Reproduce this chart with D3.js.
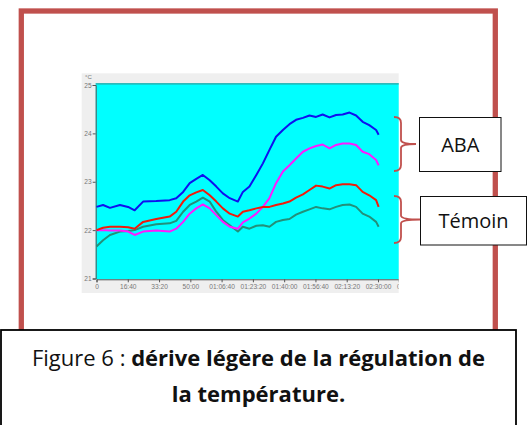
<!DOCTYPE html>
<html><head><meta charset="utf-8">
<script src="https://cdn.jsdelivr.net/npm/d3@7"></script>
<style>body{margin:0;background:#fff;}svg{display:block;}</style>
</head><body>
<svg id="c" width="530" height="425"></svg>
<script>
// time in seconds
const times = [0,210,430,750,1010,1220,1490,1910,2340,2550,2770,2980,3190,3400,3620,3830,4040,4260,4520,4680,4890,5110,5320,5530,5740,5960,6170,6380,6600,6810,7020,7230,7450,7660,7870,8090,8300,8510,8720,8940,9020];
const blueSeries = [22.48,22.52,22.46,22.52,22.48,22.41,22.59,22.60,22.62,22.66,22.79,22.97,23.06,23.14,23.03,22.90,22.76,22.66,22.59,22.79,22.90,23.14,23.38,23.66,23.93,24.07,24.19,24.28,24.32,24.37,24.34,24.39,24.33,24.38,24.39,24.43,24.37,24.24,24.17,24.07,23.97];
const magentaSeries = [22.00,22.00,21.99,21.99,21.97,21.90,21.97,21.99,21.97,22.03,22.17,22.34,22.45,22.53,22.45,22.31,22.17,22.07,22.03,22.16,22.24,22.34,22.48,22.66,22.97,23.21,23.34,23.48,23.62,23.69,23.74,23.77,23.69,23.76,23.79,23.79,23.76,23.62,23.57,23.45,23.34];
const redSeries = [22.00,22.05,22.07,22.07,22.06,22.03,22.17,22.23,22.28,22.38,22.59,22.72,22.78,22.83,22.72,22.59,22.45,22.34,22.28,22.38,22.41,22.45,22.48,22.48,22.52,22.55,22.59,22.67,22.74,22.83,22.92,22.90,22.86,22.93,22.95,22.95,22.93,22.79,22.72,22.62,22.48];
const tealSeries = [21.66,21.79,21.90,21.97,21.98,22.00,22.07,22.12,22.14,22.19,22.38,22.52,22.59,22.67,22.59,22.38,22.21,22.10,21.97,22.07,22.03,22.09,22.10,22.07,22.17,22.21,22.23,22.32,22.38,22.43,22.48,22.45,22.43,22.48,22.52,22.53,22.48,22.34,22.28,22.17,22.07];
const yTicks = [21,22,23,24,25];
const xTicks = [0,1000,2000,3000,4000,5000,6000,7000,8000,9000,10000];
const xTickLabels = ["0","16:40","33:20","50:00","01:06:40","01:23:20","01:40:00","01:56:40","02:13:20","02:30:00","02:46:40"];
const yUnit = "°C";
const groupLabels = ["ABA","Témoin"];
const captionPlain = "Figure 6 : ";
const captionBold1 = "dérive légère de la régulation de";
const captionBold2 = "la température.";

const svg = d3.select("#c");
const frameColor = "#c0504d";

// outer frame
svg.append("rect").attr("x",21.3).attr("y",11).attr("width",474).attr("height",330)
  .attr("fill","none").attr("stroke",frameColor).attr("stroke-width",5.3);

// chart panel
const panel = {x:81.7,y:73.3,w:317,h:219.7};
svg.append("rect").attr("x",panel.x).attr("y",panel.y).attr("width",panel.w).attr("height",panel.h).attr("fill","#efefef");
const plot = {l:95.7, t:83.3, r:398.7, b:279.3};
svg.append("rect").attr("x",plot.l).attr("y",plot.t).attr("width",plot.r-plot.l).attr("height",plot.b-plot.t).attr("fill","#00ffff");
svg.append("line").attr("x1",plot.l).attr("x2",plot.r).attr("y1",plot.t+0.5).attr("y2",plot.t+0.5).attr("stroke","#2aa3a3").attr("stroke-width",1.2);

const x = d3.scaleLinear().domain([0,9662]).range([96.5,398.7]);
const y = d3.scaleLinear().domain([21,25]).range([278.5,85]);

svg.append("defs").append("clipPath").attr("id","pc").append("rect")
  .attr("x",panel.x).attr("y",panel.y).attr("width",panel.w).attr("height",panel.h);

// axes
const xAxis = d3.axisBottom(x).tickValues(xTicks).tickSize(3).tickPadding(2)
  .tickFormat((d,i)=>xTickLabels[i]);
const gx = svg.append("g").attr("clip-path","url(#pc)").append("g").attr("transform",`translate(0,${plot.b})`).call(xAxis);
gx.select(".domain").attr("stroke","#555");
gx.selectAll(".tick line").attr("stroke","#555");
gx.selectAll("text").attr("fill","#777").attr("font-size",6.6).attr("font-family","Liberation Sans");

const yAxis = d3.axisLeft(y).tickValues(yTicks).tickSize(3).tickPadding(1).tickFormat(d3.format("d"));
const gy = svg.append("g").attr("transform",`translate(${plot.l},0)`).call(yAxis);
gy.select(".domain").attr("stroke","#555");
gy.selectAll(".tick line").attr("stroke","#555");
gy.selectAll("text").attr("fill","#777").attr("font-size",6.6).attr("font-family","Liberation Sans");
svg.append("text").attr("x",85).attr("y",79).attr("font-size",6).attr("fill","#777").attr("font-family","Liberation Sans").text(yUnit);

// lines
const line = d3.line().x((d,i)=>x(times[i])).y(d=>y(d));
const series = [
  {v:tealSeries,c:"#23907a"},
  {v:magentaSeries,c:"#ff1aff"},
  {v:redSeries,c:"#f21a0a"},
  {v:blueSeries,c:"#1010ee"}
];
svg.append("g").selectAll("path").data(series).join("path")
  .attr("d",d=>line(d.v)).attr("fill","none").attr("stroke",d=>d.c)
  .attr("stroke-width",2).attr("stroke-linejoin","round");

// braces
function brace(x0,top,bot,tip){
  const mid=(top+bot)/2, xm=x0+7;
  return `M${x0},${top} Q${xm},${top} ${xm},${top+6} L${xm},${mid-4} Q${xm},${mid} ${tip},${mid} Q${xm},${mid} ${xm},${mid+4} L${xm},${bot-6} Q${xm},${bot} ${x0},${bot}`;
}
svg.append("path").attr("d",brace(394,117,171,416)).attr("fill","none").attr("stroke",frameColor).attr("stroke-width",1.8);
svg.append("path").attr("d",brace(394,196,243,420)).attr("fill","none").attr("stroke",frameColor).attr("stroke-width",1.8);

// label boxes
const boxes=[{x:419.5,y:117.5,w:81.5,h:54,t:groupLabels[0]},{x:420.5,y:196.5,w:106,h:48.5,t:groupLabels[1]}];
boxes.forEach(b=>{
  svg.append("rect").attr("x",b.x).attr("y",b.y).attr("width",b.w).attr("height",b.h).attr("fill","#fff").attr("stroke","#111").attr("stroke-width",1);
  svg.append("text").attr("x",b.x+b.w/2).attr("y",b.y+b.h/2+7).attr("text-anchor","middle")
    .attr("font-family","Open Sans, Liberation Sans").attr("font-size",20).attr("fill","#111").text(b.t);
});

// caption box
svg.append("rect").attr("x",1).attr("y",330).attr("width",515).attr("height",110).attr("fill","#fff").attr("stroke","#000").attr("stroke-width",1.8);
const cap1 = svg.append("text").attr("x",258.5).attr("y",365.5).attr("text-anchor","middle")
  .attr("font-family","Open Sans, Liberation Sans").attr("font-size",22).attr("fill","#111");
cap1.append("tspan").text(captionPlain);
cap1.append("tspan").attr("font-weight","bold").text(captionBold1);
svg.append("text").attr("x",258.5).attr("y",402).attr("text-anchor","middle")
  .attr("font-family","Open Sans, Liberation Sans").attr("font-size",22).attr("font-weight","bold").attr("fill","#111").text(captionBold2);
</script>
</body></html>
